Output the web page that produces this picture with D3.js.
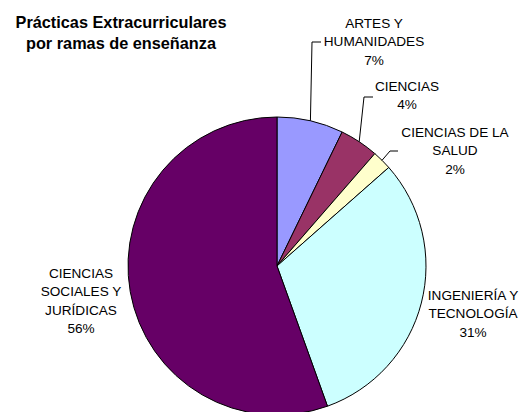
<!DOCTYPE html>
<html><head><meta charset="utf-8">
<script src="https://cdn.jsdelivr.net/npm/d3@7"></script>
<style>body{margin:0;background:#fff}svg{display:block}</style>
</head><body>
<svg id="c" width="520" height="412"></svg>
<script>
const categories = [["ARTES Y","HUMANIDADES"],["CIENCIAS"],["CIENCIAS DE LA","SALUD"],["INGENIERÍA Y","TECNOLOGÍA"],["CIENCIAS","SOCIALES Y","JURÍDICAS"]];
const values = [7.2, 4.2, 2.1, 31.0, 55.5];
const percentLabels = ["7%","4%","2%","31%","56%"];
const colors = ["#9999FF","#993366","#FFFFCC","#CCFFFF","#660066"];
const titleLines = ["Prácticas Extracurriculares","por ramas de enseñanza"];

// layout (label anchor: center x, first baseline y; leader elbow x / text-side x)
const labelLayout = [
  {x:374, y:28, leader:{y:42, elbow:312, end:321}},
  {x:407, y:91, leader:{y:97, elbow:364, end:373}},
  {x:455, y:137, leader:{y:151, elbow:390, end:398}},
  {x:473, y:300, leader:null},
  {x:81, y:278, leader:null}
];

const svg = d3.select("#c");
const cx = 277, cy = 266, r = 149;
const font = "'Liberation Sans', Arial, sans-serif";

svg.append("g").selectAll("text").data(titleLines).join("text")
  .attr("x", 121).attr("y", (d,i)=>28 + i*21)
  .attr("text-anchor","middle").attr("font-family",font)
  .attr("font-weight","bold").attr("font-size",16.3).attr("fill","#000")
  .text(d=>d);

const pie = d3.pie().sort(null).value(d=>d)(values);
const arc = d3.arc().innerRadius(0).outerRadius(r);
const g = svg.append("g").attr("transform",`translate(${cx},${cy})`);
g.selectAll("path").data(pie).join("path")
  .attr("d",arc).attr("fill",(d,i)=>colors[i])
  .attr("stroke","#000").attr("stroke-width",1).attr("stroke-linejoin","round");

// leaders
pie.forEach((d,i)=>{
  const L = labelLayout[i].leader;
  if(!L) return;
  const a = (d.startAngle + d.endAngle)/2;
  const px = cx + r*Math.sin(a), py = cy - r*Math.cos(a);
  svg.append("path")
    .attr("d",`M${px},${py}L${L.elbow},${L.y}L${L.end},${L.y}`)
    .attr("fill","none").attr("stroke","#000").attr("stroke-width",1);
});

const lh = 18.3;
categories.forEach((lines,i)=>{
  const all = lines.concat([percentLabels[i]]);
  const t = svg.append("text").attr("text-anchor","middle")
    .attr("font-family",font).attr("font-size",13.6).attr("fill","#000");
  all.forEach((s,j)=>{
    t.append("tspan").attr("x",labelLayout[i].x).attr("y",labelLayout[i].y + j*lh).text(s);
  });
});
</script>
</body></html>
